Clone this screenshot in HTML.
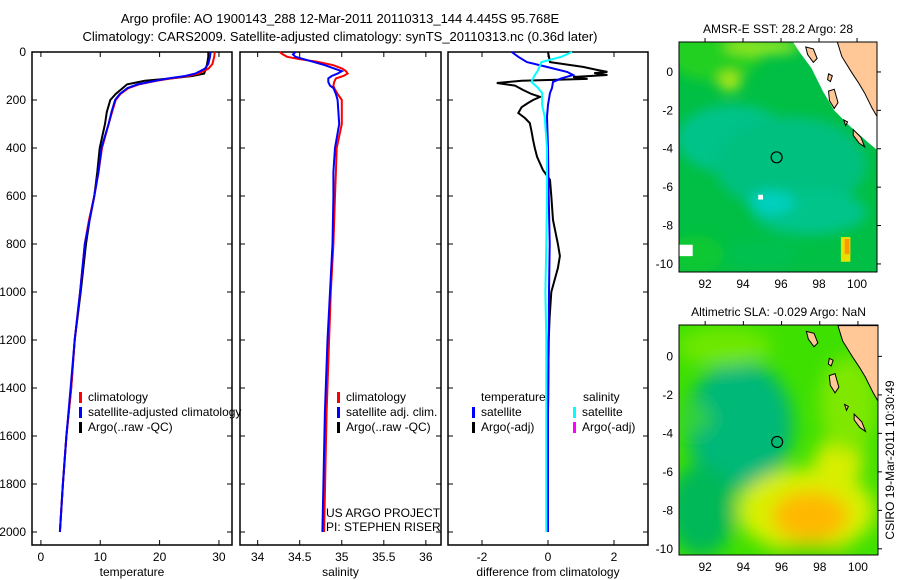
<!DOCTYPE html>
<html><head><meta charset="utf-8">
<style>
html,body{margin:0;padding:0;background:#fff;}
svg{display:block;font-family:"Liberation Sans",sans-serif;}
text{font-size:12px;fill:#000;}
</style></head>
<body>
<svg id="chart" width="900" height="580" viewBox="0 0 900 580" xmlns="http://www.w3.org/2000/svg">
<defs>
<filter id="blur6" x="-50%" y="-50%" width="200%" height="200%"><feGaussianBlur stdDeviation="6"/></filter>
<filter id="blur10" x="-50%" y="-50%" width="200%" height="200%"><feGaussianBlur stdDeviation="9"/></filter>
<clipPath id="clipMap1"><rect x="679" y="42" width="198" height="230"/></clipPath>
<clipPath id="clipMap2"><rect x="679" y="325" width="199" height="230"/></clipPath>
</defs>
<text x="340" y="23" text-anchor="middle" style="font-size:13px">Argo profile: AO 1900143_288 12-Mar-2011 20110313_144 4.445S 95.768E</text>
<text x="340" y="41" text-anchor="middle" style="font-size:13px">Climatology: CARS2009. Satellite-adjusted climatology: synTS_20110313.nc (0.36d later)</text>
<g id="layer"></g>
<text transform="translate(894,460) rotate(-90)" text-anchor="middle" style="font-size:12px">CSIRO 19-Mar-2011 10:30:49</text>
</svg>
<script>
// ---- profile data ----
const tDep   = [0,20,50,70,90,100,110,120,135,150,175,200,250,300,400,500,600,700,800,1000,1200,1400,1600,1800,2000];
const tClim  = [29.3,29.2,28.9,28.2,26.5,24.8,22,19.5,16.5,14.8,13.4,12.6,12.0,11.4,10.3,9.7,9.0,8.1,7.4,6.6,5.7,5.1,4.3,3.7,3.2];
const tSat   = [28.6,28.5,28.2,27.6,26,24.3,21.5,19.3,16.3,14.6,13.3,12.5,11.9,11.4,10.2,9.7,9.0,8.2,7.4,6.6,5.7,5.0,4.3,3.7,3.2];
const tArgo  = [28.2,28.2,28.0,27.8,27.5,25.5,22,17.5,14.5,13.8,12.6,11.7,11.1,10.8,9.9,9.5,9.0,8.2,7.6,6.7,5.7,5.1,4.3,3.7,3.2];
const sDep   = [0,10,20,30,40,55,70,80,90,100,110,125,140,150,175,200,250,300,400,500,600,800,1000,1200,1500,2000];
const sClim  = [34.26,34.3,34.35,34.5,34.7,34.9,35.01,35.05,35.07,35.02,34.93,34.91,34.9,34.91,34.95,35.0,35.0,35.0,34.94,34.93,34.92,34.9,34.87,34.85,34.82,34.79];
const sSat   = [34.45,34.42,34.45,34.55,34.65,34.8,34.92,35.0,34.95,34.88,34.84,34.84,34.86,34.9,34.93,34.95,34.96,34.97,34.92,34.9,34.9,34.89,34.86,34.83,34.8,34.77];
const dDep   = [0,20,42,60,83,96,110,125,150,171,220,270,400,600,800,1000,1200,1500,2000];
const dTSat  = [-1.1,-0.9,-0.64,-0.1,0.58,0.76,0.4,0.15,0.12,0.06,0.0,-0.03,0,0.02,0.05,0.03,0.02,0.0,0.0];
const dSSat  = [0.73,0.4,-0.2,-0.25,-0.33,-0.4,-0.45,-0.5,-0.3,-0.18,-0.18,-0.1,-0.03,-0.03,-0.05,-0.08,-0.05,-0.05,-0.05];
const dADep  = [0,42,62,75,83,88,96,104,112,120,129,140,158,175,187,200,212,230,254,275,296,330,367,400,437,492,533,600,700,800,850,900,950,1000,1100,1200,1500,2000];
const dATemp = [0.0,0.06,1.06,1.5,1.8,1.4,1.8,0.76,1.2,-0.8,-1.55,-1.0,-0.76,-0.5,-0.24,-0.45,-0.6,-0.8,-0.9,-0.7,-0.55,-0.5,-0.45,-0.4,-0.33,-0.15,0.06,0.1,0.15,0.3,0.36,0.3,0.2,0.1,0.05,0.02,0.0,0.0];
const depthTicks = [0,200,400,600,800,1000,1200,1400,1600,1800,2000];
const tTicks = [0,10,20,30];
const sTicks = [34,34.5,35,35.5,36];
const dTicks = [-2,0,2];
const latTicks = [0,-2,-4,-6,-8,-10];
const lonTicks = [92,94,96,98,100];
const argoLon = 95.768, argoLat = -4.445;

const NS='http://www.w3.org/2000/svg';
const layer=document.getElementById('layer');
function mk(tag,attrs,parent){const e=document.createElementNS(NS,tag);for(const k in attrs)e.setAttribute(k,attrs[k]);(parent||layer).appendChild(e);return e;}

const top0=52, bot0=545;
function yD(d){return top0+d*0.24;}

function panel(name,x0,x1,vmin,vmax,ticks,label,showDepth){
  const xS=v=>x0+(v-vmin)/(vmax-vmin)*(x1-x0);
  const g=mk('g',{});
  
  
  const r=mk('rect',{x:x0,y:top0,width:x1-x0,height:bot0-top0,fill:'none',stroke:'#000','stroke-width':1.5},g);
  
  
  depthTicks.forEach(d=>{
    mk('line',{x1:x0,x2:x0+5,y1:yD(d),y2:yD(d),stroke:'#000'},g);
    mk('line',{x1:x1-5,x2:x1,y1:yD(d),y2:yD(d),stroke:'#000'},g);
    if(showDepth){const t=mk('text',{x:x0-6,y:yD(d)+4,'text-anchor':'end'},g);t.textContent=d;
      
      }
  });
  ticks.forEach(v=>{
    mk('line',{x1:xS(v),x2:xS(v),y1:bot0,y2:bot0-5,stroke:'#000'},g);
    mk('line',{x1:xS(v),x2:xS(v),y1:top0,y2:top0+5,stroke:'#000'},g);
    const t=mk('text',{x:xS(v),y:bot0+16,'text-anchor':'middle'},g);t.textContent=v;
    
    
  });
  const xl=mk('text',{x:(x0+x1)/2,y:576,'text-anchor':'middle'},g);xl.textContent=label;
  
  
  return {g,xS};
}
function line(p,deps,vals,color,name,w){
  const pts=deps.map((d,i)=>p.xS(vals[i]).toFixed(1)+','+yD(d).toFixed(1)).join(' ');
  const l=mk('polyline',{points:pts,fill:'none',stroke:color,'stroke-width':w||2},p.g);
  
  
}
function legendItem(g,x,y,color,label,name){
  if(color){mk('rect',{x:x,y:y-9,width:3,height:11,fill:color},g);}
  const t=mk('text',{x:x+9,y:y},g);t.textContent=label;
  
  
}

// panel 1: temperature
const p1=panel('temperature-panel',32,232,-1.5,32.2,tTicks,'temperature',true);
line(p1,tDep,tArgo,'#000','argo-temperature-line');
line(p1,tDep,tClim,'#f00','climatology-temperature-line');
line(p1,tDep,tSat,'#00f','satellite-temperature-line');
legendItem(p1.g,79,401,'#f00','climatology','legend-climatology');
legendItem(p1.g,79,416,'#00f','satellite-adjusted climatology','legend-satellite');
legendItem(p1.g,79,431,'#000','Argo(..raw -QC)','legend-argo');

// panel 2: salinity
const p2=panel('salinity-panel',240,441,33.79,36.18,sTicks,'salinity',false);
line(p2,sDep,sClim,'#f00','climatology-salinity-line');
line(p2,sDep,sSat,'#00f','satellite-salinity-line');
legendItem(p2.g,337,401,'#f00','climatology','legend-climatology-sal');
legendItem(p2.g,337,416,'#00f','satellite adj. clim.','legend-satellite-sal');
legendItem(p2.g,337,431,'#000','Argo(..raw -QC)','legend-argo-sal');
const pr1=mk('text',{x:326,y:517},p2.g);pr1.textContent='US ARGO PROJECT';


const pr2=mk('text',{x:326,y:531},p2.g);pr2.textContent='PI: STEPHEN RISER';



// panel 3: differences
const p3=panel('difference-panel',448,648,-3.03,3.03,dTicks,'difference from climatology',false);
line(p3,dADep,dATemp,'#000','argo-temp-difference-line');
line(p3,dDep,dTSat,'#00f','satellite-temp-difference-line');
line(p3,dDep,dSSat,'#0ff','satellite-sal-difference-line');
const th=mk('text',{x:481,y:401},p3.g);th.textContent='temperature';


const sh=mk('text',{x:583,y:401},p3.g);sh.textContent='salinity';


legendItem(p3.g,472,416,'#00f','satellite','legend-temp-satellite');
legendItem(p3.g,472,431,'#000','Argo(-adj)','legend-temp-argo');
legendItem(p3.g,573,416,'#0ff','satellite','legend-sal-satellite');
legendItem(p3.g,573,431,'#f0f','Argo(-adj)','legend-sal-argo');

// ---- maps ----
const landPoly=[[98.95,1.6],[99.2,0.8],[99.7,0],[100.1,-0.6],[100.4,-1.1],[100.8,-1.9],[101.1,-2.4],[101.1,1.6]];
const islands=[
 [[97.3,1.3],[97.7,1.2],[97.9,0.7],[97.7,0.5],[97.4,0.9]],
 [[98.5,-0.1],[98.7,-0.2],[98.6,-0.5],[98.45,-0.4]],
 [[98.5,-1.0],[98.8,-0.9],[99.0,-1.6],[98.8,-1.9],[98.55,-1.5]],
 [[99.3,-2.5],[99.5,-2.6],[99.4,-2.8]],
 [[99.8,-3.0],[100.2,-3.4],[100.4,-3.9],[100.1,-3.7],[99.8,-3.3]]
];
// SST blobs: [lon, lat, rx(deg), ry(deg), color]
const sstBase='#00bf44';
const sstBlobs=[[93.5,-3.5,3,1.8,'#00c38a'],[96.5,-4.8,4,2.5,'#00c080'],[97.5,-7.3,3,1.2,'#00c48a'],[95.5,-6.8,1.2,0.6,'#00d0c0'],
 [92.5,1,2.5,1.5,'#22d020'],[95,1.3,2,0.4,'#90e820'],[93.3,-0.5,0.6,0.5,'#a8e818'],[91.5,-9.5,1.5,1,'#10c830'],[95,-9.5,2,0.8,'#00c050']];
const slaBase='#3ee000';
const slaBlobs=[[93.8,-3.6,2.8,3.4,'#00b878'],[91.8,-8,1.8,2.4,'#00b858'],[97.3,-8,3.6,2.2,'#d8f000'],[97.5,-8.3,2,1.3,'#ffb800'],
 [99,-5.5,1.3,1.2,'#d8ee00'],[99.5,-2.5,1.5,2.5,'#80e800'],[93,0.5,2.5,1,'#70e800'],[97.5,-10.2,2,0.5,'#40d800'],[91.5,-3.2,0.8,0.8,'#30d040']];

function drawMap(name,title,bx,by,bw,bh,lonMin,lonMax,latMax,latMin,base,blobs,blurId,clip,sst){
  const g=mk('g',{});
  
  
  const X=lo=>bx+(lo-lonMin)/(lonMax-lonMin)*bw;
  const Y=la=>by+(latMax-la)/(latMax-latMin)*bh;
  const pxd=bw/(lonMax-lonMin);
  const inner=mk('g',{'clip-path':'url(#'+clip+')'},g);
  mk('rect',{x:bx,y:by,width:bw,height:bh,fill:base},inner);
  const bg=mk('g',{filter:'url(#'+blurId+')'},inner);
  blobs.forEach(b=>{const e=mk('ellipse',{cx:X(b[0]),cy:Y(b[1]),rx:b[2]*pxd,ry:b[3]*pxd,fill:b[4]},bg);
    
    });
  if(sst){
    const hs=mk('rect',{x:X(99.15),y:Y(-8.6),width:0.5*pxd,height:1.3*pxd,fill:'#e8e000'},inner);
    
    
    mk('rect',{x:X(99.35),y:Y(-8.7),width:0.25*pxd,height:0.8*pxd,fill:'#ff9800'},inner);
    const nd=[[96.6,1.6],[97,1],[97.6,0.2],[98.2,-1],[98.8,-2],[99.6,-2.8],[100.5,-3.6],[101.1,-4.1],[101.1,1.6]];
    mk('polygon',{points:nd.map(p=>X(p[0])+','+Y(p[1])).join(' '),fill:'#fff'},inner);
    mk('rect',{x:X(90.6),y:Y(-9.0),width:0.75*pxd,height:0.6*pxd,fill:'#fff'},inner);
    mk('rect',{x:X(94.8),y:Y(-6.4),width:0.25*pxd,height:0.25*pxd,fill:'#fff'},inner);
  }
  const land=mk('polygon',{points:landPoly.map(p=>X(p[0])+','+Y(p[1])).join(' '),fill:'#ffc896',stroke:'#000','stroke-width':1},inner);
  
  
  islands.forEach(isl=>{mk('polygon',{points:isl.map(p=>X(p[0])+','+Y(p[1])).join(' '),fill:'#ffc896',stroke:'#000','stroke-width':1},inner);});
  const c=mk('circle',{cx:X(argoLon),cy:Y(argoLat),r:5.5,fill:'none',stroke:'#000','stroke-width':1.2},g);
  
  
  mk('rect',{x:bx,y:by,width:bw,height:bh,fill:'none',stroke:'#000','stroke-width':1},g);
  latTicks.forEach(la=>{
    mk('line',{x1:bx+bw,x2:bx+bw+4,y1:Y(la),y2:Y(la),stroke:'#000'},g);
    const t=mk('text',{x:bx-6,y:Y(la)+4,'text-anchor':'end'},g);t.textContent=la;
    
    
  });
  lonTicks.forEach(lo=>{
    mk('line',{x1:X(lo),x2:X(lo),y1:by-4,y2:by,stroke:'#000'},g);
    const t=mk('text',{x:X(lo),y:by+bh+16,'text-anchor':'middle'},g);t.textContent=lo;
    
    
  });
  const tt=mk('text',{x:bx+bw/2,y:by-9,'text-anchor':'middle'},g);tt.textContent=title;
  
  
}
drawMap('sst-map','AMSR-E SST: 28.2 Argo: 28',679,42,198,230,90.63,101.05,1.56,-10.42,sstBase,sstBlobs,'blur6','clipMap1',true);
drawMap('sla-map','Altimetric SLA: -0.029 Argo: NaN',679,325,199,230,90.63,101.05,1.63,-10.32,slaBase,slaBlobs,'blur10','clipMap2',false);
</script>
</body></html>
